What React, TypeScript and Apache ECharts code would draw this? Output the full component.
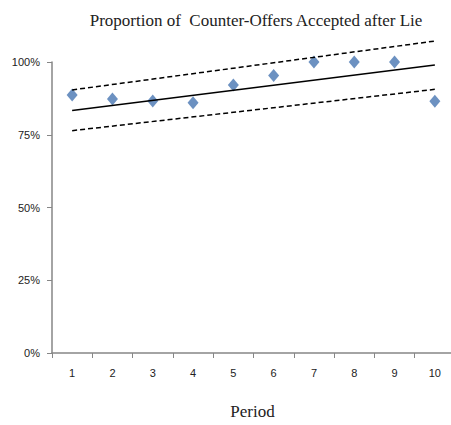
import React, { useEffect, useRef } from "react";
import * as echarts from "echarts";

// Periods on the x axis
const periods = ["1", "2", "3", "4", "5", "6", "7", "8", "9", "10"];
// Share of counter-offers accepted after a lie, per period
const accepted = [0.887, 0.873, 0.866, 0.86, 0.921, 0.954, 1.0, 1.0, 1.0, 0.865];
// Fitted trend and its confidence band, given at the first and last period
const fitEnds = [0.833, 0.99];
const upperEnds = [0.904, 1.072];
const lowerEnds = [0.764, 0.906];
// Y axis tick values
const yTicks = [0, 0.25, 0.5, 0.75, 1];

const ends = (v: number[]) => [
  [0, v[0]],
  [periods.length - 1, v[1]],
];

export default function App() {
  const ref = useRef<HTMLDivElement>(null);

  useEffect(() => {
    if (!ref.current) return;
    const chart = echarts.init(ref.current, null, { renderer: "svg" });
    const axisGray = "#868686";
    const lineBase = {
      type: "line" as const,
      symbol: "none",
      clip: false,
      silent: true,
    };
    chart.setOption({
      animation: false,
      backgroundColor: "#ffffff",
      title: {
        text: "Proportion of  Counter-Offers Accepted after Lie",
        left: 251,
        textAlign: "center",
        top: 7,
        textStyle: {
          fontFamily: "Liberation Serif",
          fontWeight: "normal",
          fontSize: 17,
          color: "#222222",
        },
      },
      grid: {
        left: 52,
        top: 62,
        width: 403,
        height: 291,
        outerBoundsMode: "none",
        containLabel: false,
      },
      xAxis: {
        type: "category",
        data: periods,
        boundaryGap: true,
        name: "Period",
        nameLocation: "middle",
        nameGap: 50,
        nameTextStyle: {
          fontFamily: "Liberation Serif",
          fontSize: 17,
          color: "#222222",
          padding: [0, 0, 0, -2],
        },
        axisLine: { lineStyle: { color: axisGray, width: 1.5 } },
        axisTick: { show: true, length: 5, lineStyle: { color: axisGray } },
        axisLabel: {
          margin: 14,
          fontFamily: "Liberation Sans",
          fontSize: 11,
          color: "#222222",
        },
        splitLine: { show: false },
      },
      yAxis: {
        type: "value",
        min: 0,
        max: 1,
        interval: 0.25,
        axisLine: { show: true, lineStyle: { color: axisGray, width: 1.5 } },
        axisTick: { show: true, length: 5, lineStyle: { color: axisGray } },
        axisLabel: {
          margin: 12,
          fontFamily: "Liberation Sans",
          fontSize: 11,
          color: "#222222",
          formatter: (v: number) =>
            yTicks.includes(v) ? `${Math.round(v * 100)}%` : "",
        },
        splitLine: { show: false },
      },
      series: [
        {
          ...lineBase,
          data: ends(upperEnds),
          lineStyle: { color: "#000000", width: 1.5, type: [5, 3] },
        },
        {
          ...lineBase,
          data: ends(lowerEnds),
          lineStyle: { color: "#000000", width: 1.5, type: [5, 3] },
        },
        {
          ...lineBase,
          data: ends(fitEnds),
          lineStyle: { color: "#000000", width: 1.5 },
        },
        {
          type: "scatter",
          data: accepted,
          symbol: "diamond",
          symbolSize: [11, 13],
          clip: false,
          itemStyle: { color: "#4775B2" },
        },
      ],
    });
    return () => chart.dispose();
  }, []);

  return (
    <div
      ref={ref}
      style={{ position: "absolute", left: 0, top: 0, width: 451, height: 425 }}
    />
  );
}
